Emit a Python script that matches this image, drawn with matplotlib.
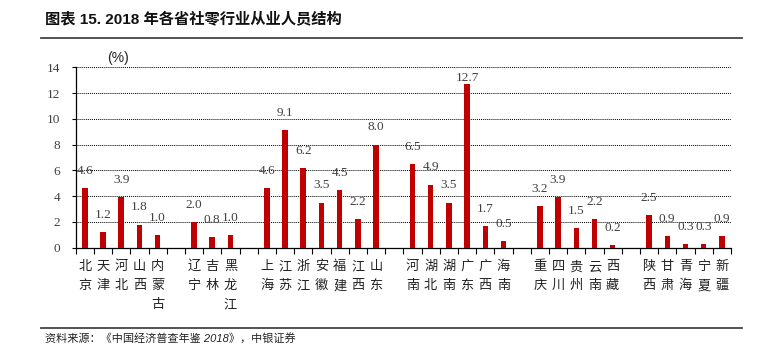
import numpy as np
import matplotlib
matplotlib.use("Agg")
import matplotlib.pyplot as plt
from matplotlib.lines import Line2D

plt.rcParams["font.family"] = ["Liberation Sans", "Noto Sans CJK SC", "DejaVu Sans"]

# ==========================
# DATA
# ==========================
TITLE = "图表 15. 2018 年各省社零行业从业人员结构"
SOURCE = "资料来源：《中国经济普查年鉴 2018》，中银证券"

provinces = [
    "北京", "天津", "河北", "山西", "内蒙古",
    "辽宁", "吉林", "黑龙江",
    "上海", "江苏", "浙江", "安徽", "福建", "江西", "山东",
    "河南", "湖北", "湖南", "广东", "广西", "海南",
    "重庆", "四川", "贵州", "云南", "西藏",
    "陕西", "甘肃", "青海", "宁夏", "新疆",
]
values = [
    4.6, 1.2, 3.9, 1.8, 1.0,
    2.0, 0.8, 1.0,
    4.6, 9.1, 6.2, 3.5, 4.5, 2.2, 8.0,
    6.5, 4.9, 3.5, 12.7, 1.7, 0.5,
    3.2, 3.9, 1.5, 2.2, 0.2,
    2.5, 0.9, 0.3, 0.3, 0.9,
]
group_sizes = [5, 3, 7, 6, 5, 5]

yticks = [0, 2, 4, 6, 8, 10, 12, 14]

BAR_COLOR = "#C00000"

# slot positions, one empty slot after each group
positions = []
slot = 0
for n in group_sizes:
    for i in range(n):
        positions.append(slot)
        slot += 1
    slot += 1
n_slots = slot - 1

# ==========================
# PLOT
# ==========================
fig = plt.figure(figsize=(7.67, 3.45), dpi=100)
ax = fig.add_axes([0.0987, 0.282, 0.8543, 0.523])

ax.bar(positions, values, width=0.3, color=BAR_COLOR, zorder=3)

for x, v in zip(positions, values):
    ax.text(x, min(v + 1.33, 13.15), f"{v:.1f}", ha="center", va="center",
            fontsize=9.5, family="Liberation Serif", color="#404040", zorder=4)

ax.set_xlim(-0.5, n_slots - 0.5)
ax.set_ylim(0, 14)

# y axis
ax.set_yticks(yticks)
ax.set_yticklabels([str(t) for t in yticks], family="Liberation Serif",
                   fontsize=9.5, color="#404040")
ax.tick_params(axis="y", length=3, width=0.8, pad=8)
for t in yticks[1:]:
    ax.axhline(t, color="black", lw=0.7, ls=(0, (1, 1)), zorder=1)

# x axis: ticks at slot borders, labels at bar centers
ax.set_xticks(np.arange(-0.5, n_slots, 1.0))
ax.set_xticklabels([])
ax.tick_params(axis="x", which="major", direction="out", length=4, width=0.8)
ax.set_xticks(positions, minor=True)
ax.set_xticklabels(["\n".join(p) for p in provinces], minor=True,
                   family="Noto Sans CJK SC", fontsize=9.5, color="#222222")
ax.tick_params(axis="x", which="minor", length=0, pad=9)
for lab in ax.get_xticklabels(minor=True):
    lab.set_linespacing(1.6)

for side in ["top", "right"]:
    ax.spines[side].set_visible(False)
ax.spines["left"].set_linewidth(0.9)
ax.spines["bottom"].set_linewidth(0.9)

fig.text(118 / 767, 1 - 58 / 345, "(%)", ha="center", va="center", fontsize=10,
         color="#222222")

# title + source + rules
fig.text(45 / 767, 1 - 19 / 345, TITLE, ha="left", va="center", fontsize=11,
         fontweight="bold", color="#111111")
fig.add_artist(Line2D([41 / 767, 742 / 767], [1 - 38 / 345, 1 - 38 / 345],
                      color="#444444", lw=1.3))
fig.add_artist(Line2D([41 / 767, 742 / 767], [1 - 328 / 345, 1 - 328 / 345],
                      color="#444444", lw=1.3))
fig.text(45 / 767, 1 - 338 / 345, SOURCE, ha="left", va="center", fontsize=8,
         style="italic", color="#222222")

fig.savefig("out.png", dpi=100)
